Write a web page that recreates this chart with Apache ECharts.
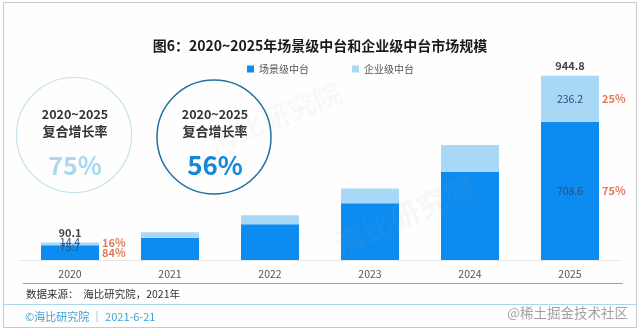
<!DOCTYPE html>
<html>
<head>
<meta charset="utf-8">
<script src="https://cdn.jsdelivr.net/npm/echarts@6/dist/echarts.min.js"></script>
<style>
html,body{margin:0;padding:0;background:#fff;}
#chart{width:640px;height:332px;}
</style>
</head>
<body>
<div id="chart"></div>
<script>
// ---- data ----
const categories = ['2020', '2021', '2022', '2023', '2024', '2025'];
const sceneValues = [75.7, 114, 183, 291, 453, 708.6];          // 场景级中台
const enterpriseValues = [14.4, 28, 46, 76, 137, 236.2];       // 企业级中台
const totalValues = [90.1, '-', '-', '-', '-', 944.8];
const sceneShare = ['84%', '', '', '', '', '75%'];
const enterpriseShare = ['16%', '', '', '', '', '25%'];
const labeledYears = ['2020', '2025'];
const cagrPeriod = '2020~2025';
const cagrLabel = '复合增长率';
const enterpriseCagr = '75%';
const sceneCagr = '56%';
const seriesNames = ['场景级中台', '企业级中台'];

const FONT = '"Noto Sans CJK SC", "Noto Sans", sans-serif';
const DARK = '#0c8cf0';
const LIGHT = '#a8d8f5';

const chart = echarts.init(document.getElementById('chart'), null, {renderer: 'canvas'});

const valOffsetScene = {'2020': [0, -5.5]};
const valOffsetEnt = {'2020': [0, -2]};
const shareOffsetScene = {'2020': [0, 0.5]};
const shareOffsetEnt = {'2020': [0, -1]};

function items(values, offsets) {
  return values.map((v, i) => {
    const show = labeledYears.includes(categories[i]);
    return {value: v, label: {show: show, offset: offsets[categories[i]] || [0, 0]}};
  });
}

const innerLabel = {
  position: 'inside', color: '#2b4e7e', fontSize: 10.5, fontFamily: FONT
};
const shareLabel = {
  position: 'right', distance: 3, color: '#e07a5c', fontSize: 11, fontWeight: 'bold', fontFamily: FONT
};

chart.setOption({
  backgroundColor: '#fefefe',
  animation: false,
  title: {
    text: '图6：2020~2025年场景级中台和企业级中台市场规模',
    left: 'center', top: 34,
    textStyle: {fontSize: 14, fontWeight: 'bold', color: '#1a1a1a', fontFamily: FONT}
  },
  legend: {
    data: seriesNames,
    left: 242, top: 59,
    icon: 'rect', itemWidth: 7, itemHeight: 7, itemGap: 43,
    textStyle: {fontSize: 10, color: '#555', fontFamily: FONT}
  },
  grid: {left: 20, right: 20, top: 65, bottom: 72},
  xAxis: {
    type: 'category', data: categories,
    axisLine: {show: true, lineStyle: {color: '#e6e6e6'}},
    axisTick: {show: false},
    axisLabel: {color: '#555', fontSize: 10.5, margin: 9, fontFamily: FONT}
  },
  yAxis: {type: 'value', min: 0, max: 1000, show: false, splitLine: {show: false}},
  series: [
    {
      name: seriesNames[0], type: 'bar', stack: 'total', barWidth: 58,
      itemStyle: {color: DARK},
      label: innerLabel,
      data: items(sceneValues, valOffsetScene)
    },
    {
      name: seriesNames[1], type: 'bar', stack: 'total', barWidth: 58,
      itemStyle: {color: LIGHT},
      label: innerLabel,
      data: items(enterpriseValues, valOffsetEnt)
    },
    {
      name: 'shareScene', type: 'bar', stack: 'share', barWidth: 58, barGap: '-100%',
      itemStyle: {color: 'rgba(0,0,0,0)'}, silent: true,
      label: Object.assign({show: true, formatter: p => sceneShare[p.dataIndex]}, shareLabel),
      data: sceneValues.map((v, i) => ({value: v, label: {offset: shareOffsetScene[categories[i]] || [0, 0]}}))
    },
    {
      name: 'shareEnt', type: 'bar', stack: 'share', barWidth: 58, barGap: '-100%',
      itemStyle: {color: 'rgba(0,0,0,0)'}, silent: true,
      label: Object.assign({show: true, formatter: p => enterpriseShare[p.dataIndex]}, shareLabel),
      data: enterpriseValues.map((v, i) => ({value: v, label: {offset: shareOffsetEnt[categories[i]] || [0, 0]}}))
    },
    {
      name: 'total', type: 'scatter', symbolSize: 0, silent: true,
      label: {show: true, position: 'top', distance: 4, color: '#111', fontSize: 11, fontWeight: 'bold', fontFamily: FONT},
      data: totalValues
    }
  ],
  graphic: [
    {type: 'rect', shape: {x: 3.5, y: 2.5, width: 633, height: 325}, style: {fill: 'none', stroke: '#c9c9c9', lineWidth: 1}, z: 0},
    // faint watermark
    {type: 'text', x: 330, y: 232, rotation: 0.42, style: {text: '海比研究院', fill: 'rgba(150,150,150,0.07)', font: 'bold 30px ' + FONT}, z: 100},
    {type: 'text', x: 205, y: 130, rotation: 0.38, style: {text: '海比研究院', fill: 'rgba(150,150,150,0.06)', font: 'bold 28px ' + FONT}, z: 100},
    // circles
    {type: 'circle', shape: {cx: 74, cy: 135, r: 57.5}, style: {fill: 'none', stroke: '#c2e0ea', lineWidth: 1.1}},
    {type: 'circle', shape: {cx: 214, cy: 137, r: 57}, style: {fill: 'none', stroke: '#22709e', lineWidth: 1.5}},
    {type: 'text', x: 75, y: 114, style: {text: cagrPeriod, align: 'center', verticalAlign: 'middle', fill: '#333', font: 'bold 12.5px ' + FONT}},
    {type: 'text', x: 75, y: 131, style: {text: cagrLabel, align: 'center', verticalAlign: 'middle', fill: '#333', font: 'bold 13px ' + FONT}},
    {type: 'text', x: 75, y: 165, style: {text: enterpriseCagr, align: 'center', verticalAlign: 'middle', fill: '#a9d8f0', font: 'bold 25px ' + FONT}},
    {type: 'text', x: 215, y: 114, style: {text: cagrPeriod, align: 'center', verticalAlign: 'middle', fill: '#333', font: 'bold 12.5px ' + FONT}},
    {type: 'text', x: 215, y: 131, style: {text: cagrLabel, align: 'center', verticalAlign: 'middle', fill: '#333', font: 'bold 13px ' + FONT}},
    {type: 'text', x: 215, y: 165, style: {text: sceneCagr, align: 'center', verticalAlign: 'middle', fill: '#1488da', font: 'bold 26px ' + FONT}},
    // footer
    {type: 'line', shape: {x1: 23, y1: 283.5, x2: 623, y2: 283.5}, style: {stroke: '#a0a0a0', lineWidth: 1}},
    {type: 'text', x: 26, y: 294, style: {text: '数据来源：  海比研究院，2021年', verticalAlign: 'middle', fill: '#333', font: '10.5px ' + FONT}},
    {type: 'line', shape: {x1: 4, y1: 304.5, x2: 636, y2: 304.5}, style: {stroke: '#aad8ea', lineWidth: 1}},
    {type: 'text', x: 25, y: 317, style: {text: '©海比研究院 ｜ 2021-6-21', verticalAlign: 'middle', fill: '#3fa2d6', font: '11px ' + FONT}},
    {type: 'text', x: 628, y: 313, style: {text: '@稀土掘金技术社区', align: 'right', verticalAlign: 'middle', fill: '#a3a3a3', font: '13.5px ' + FONT}}
  ]
});
</script>
</body>
</html>
